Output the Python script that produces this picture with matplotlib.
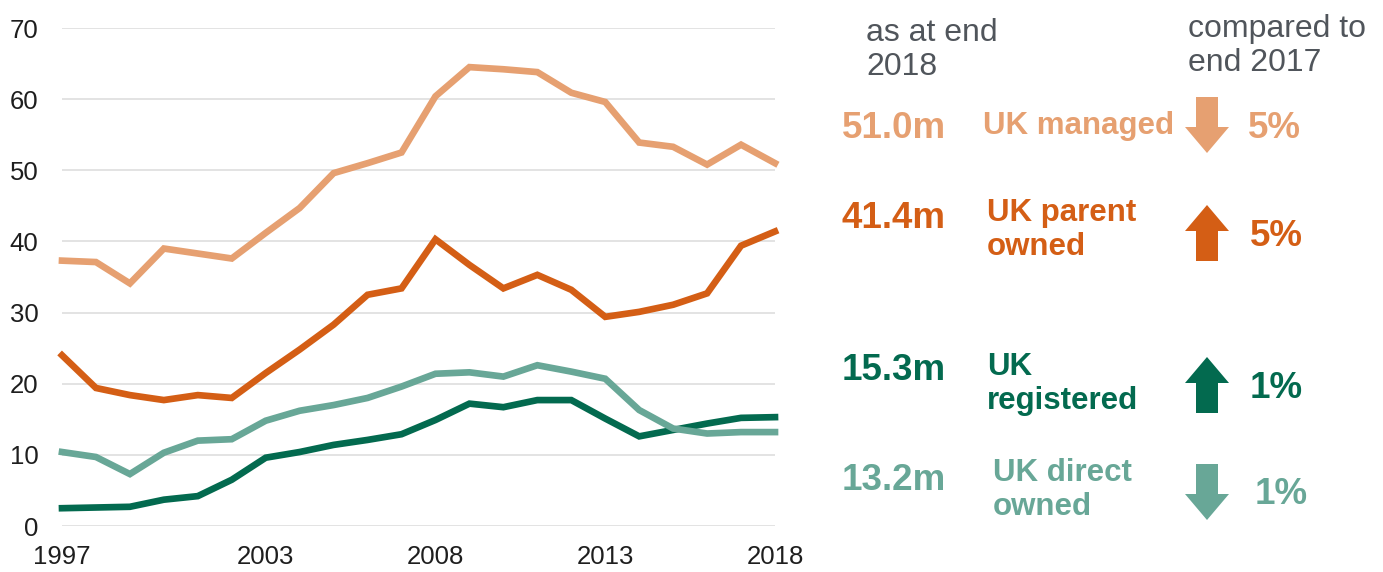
import numpy as np
import matplotlib
matplotlib.use("Agg")
import matplotlib.pyplot as plt
from matplotlib.patches import Polygon

plt.rcParams["font.family"] = ["Liberation Sans", "DejaVu Sans"]

# ---- data ----
years = list(range(1997, 2019))

uk_managed = [37.3, 37.1, 34.1, 39.0, 38.3, 37.6, 41.2, 44.7, 49.6, 51.0, 52.5,
              60.4, 64.5, 64.2, 63.8, 60.9, 59.6, 53.9, 53.3, 50.8, 53.6, 51.0]
uk_parent = [24.0, 19.4, 18.4, 17.7, 18.4, 18.0, 21.5, 24.8, 28.3, 32.5, 33.4,
             40.3, 36.7, 33.4, 35.3, 33.2, 29.4, 30.1, 31.1, 32.7, 39.4, 41.4]
uk_registered = [2.5, 2.6, 2.7, 3.7, 4.2, 6.5, 9.6, 10.4, 11.4, 12.1, 12.9,
                 14.9, 17.2, 16.7, 17.7, 17.7, 15.1, 12.6, 13.5, 14.4, 15.2, 15.3]
uk_direct = [10.4, 9.7, 7.3, 10.3, 12.0, 12.2, 14.8, 16.2, 17.0, 18.0, 19.6,
             21.4, 21.6, 21.0, 22.6, 21.7, 20.7, 16.3, 13.7, 13.0, 13.2, 13.2]

series_names = ["UK managed", "UK parent\nowned", "UK\nregistered", "UK direct\nowned"]
latest_labels = ["51.0m", "41.4m", "15.3m", "13.2m"]
change_labels = ["5%", "5%", "1%", "1%"]
change_up = [False, True, True, False]

colors = ["#E6A071", "#D45E15", "#036A4F", "#68A797"]
grey_text = "#50555B"

W, H = 1383, 572
fig = plt.figure(figsize=(W / 100, H / 100), dpi=100)

# ---- line chart ----
ax = fig.add_axes([62 / W, 1 - 526 / H, 713 / W, 498 / H])
for vals, c in zip([uk_managed, uk_parent, uk_registered, uk_direct], colors):
    ax.plot(years, vals, color=c, lw=4.8, solid_joinstyle="miter", clip_on=False, zorder=3)

ax.set_xlim(1997, 2018)
ax.set_ylim(0, 70)
ax.set_yticks(range(0, 71, 10))
ax.set_xticks([1997, 2003, 2008, 2013, 2018])
ax.grid(axis="y", color="#DEDEDE", lw=1.2)
ax.set_axisbelow(True)
for s in ax.spines.values():
    s.set_visible(False)
ax.tick_params(axis="both", length=0, labelsize=18.5, labelcolor="#1E1E1E")
ax.tick_params(axis="y", pad=17)
ax.tick_params(axis="x", pad=14)

# ---- right-hand summary panel, laid out in pixel coords ----
ov = fig.add_axes([0, 0, 1, 1])
ov.set_xlim(0, W)
ov.set_ylim(H, 0)
ov.axis("off")

ov.text(866, 50, "as at end\n2018", fontsize=23, color=grey_text, ha="left",
        va="center", linespacing=1.2)
ov.text(1188, 46, "compared to\nend 2017", fontsize=23, color=grey_text, ha="left",
        va="center", linespacing=1.2)

row_y = [126, 230, 384, 490]
value_y = [128, 218, 371, 480]
name_x = [983, 987, 987, 993]
pct_x = [1248, 1250, 1250, 1255]
arrow_y = [125, 233, 385, 492]


def draw_arrow(cx, cy, up, color):
    hw, sw, hl, total = 22, 11, 26, 56
    top, bot = cy - total / 2, cy + total / 2
    if up:
        pts = [(cx, top), (cx + hw, top + hl), (cx + sw, top + hl), (cx + sw, bot),
               (cx - sw, bot), (cx - sw, top + hl), (cx - hw, top + hl)]
    else:
        pts = [(cx, bot), (cx + hw, bot - hl), (cx + sw, bot - hl), (cx + sw, top),
               (cx - sw, top), (cx - sw, bot - hl), (cx - hw, bot - hl)]
    ov.add_patch(Polygon(pts, closed=True, facecolor=color, edgecolor="none"))


for i in range(4):
    c = colors[i]
    ov.text(946, value_y[i], latest_labels[i], fontsize=26.5,
            fontweight="bold", color=c, ha="right", va="center")
    ov.text(name_x[i], row_y[i], series_names[i], fontsize=22.5, fontweight="bold",
            color=c, ha="left", va="center", linespacing=1.15)
    draw_arrow(1207, arrow_y[i], change_up[i], c)
    ov.text(pct_x[i], arrow_y[i] + 3, change_labels[i], fontsize=26.5, fontweight="bold",
            color=c, ha="left", va="center")

fig.savefig("out.png", dpi=100)
